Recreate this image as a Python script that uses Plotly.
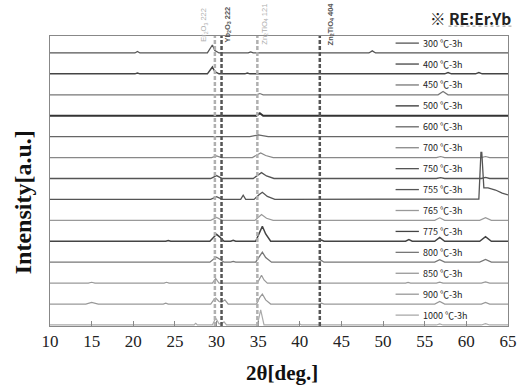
import plotly.graph_objects as go

LABELS = ["300 ℃-3h", "400 ℃-3h", "450 ℃-3h", "500 ℃-3h", "600 ℃-3h", "700 ℃-3h", "750 ℃-3h",
          "755 ℃-3h", "765 ℃-3h", "775 ℃-3h", "800 ℃-3h", "850 ℃-3h", "900 ℃-3h", "1000 ℃-3h"]
COLORS = ["#555555", "#444444", "#777777", "#333333", "#666666", "#888888", "#555555",
          "#555555", "#999999", "#444444", "#777777", "#999999", "#999999", "#aaaaaa"]
WIDTHS = [1.3, 1.5, 1.2, 2.0, 1.2, 1.2, 1.3, 1.3, 1.2, 1.5, 1.3, 1.2, 1.2, 1.2]

S300_X = [10, 20.2, 20.5, 20.8, 28.9, 29.3, 29.5, 29.8, 30.3, 33.8, 34.1, 34.4, 48.3, 48.7, 49.1, 65]
S300_Y = [0, 0, 0.07, 0, 0, 0.25, 0.38, 0.12, 0, 0, 0.05, 0, 0, 0.1, 0, 0]
S400_X = [10, 20.2, 20.5, 20.8, 28.9, 29.3, 29.5, 29.8, 30.3, 33.4, 33.7, 34.0, 57.4, 57.8, 58.2, 61.1, 61.5, 61.9, 65]
S400_Y = [0, 0, 0.04, 0, 0, 0.22, 0.33, 0.1, 0, 0, 0.04, 0, 0, 0.06, 0, 0, 0.06, 0, 0]
S450_X = [10, 34.8, 35.2, 35.6, 56.6, 57.2, 57.8, 65]
S450_Y = [0, 0, 0.06, 0, 0, 0.16, 0, 0]
S500_X = [10, 34.8, 35.2, 35.6, 65]
S500_Y = [0, 0, 0.12, 0, 0]
S600_X = [10, 34.0, 35.0, 36.2, 65]
S600_Y = [0, 0, 0.08, 0, 0]
S700_X = [10, 29.4, 30.0, 30.6, 34.3, 34.9, 35.3, 35.9, 36.8, 56.4, 56.9, 57.4, 61.8, 62.3, 62.8, 65]
S700_Y = [0, 0, 0.08, 0, 0, 0.14, 0.22, 0.1, 0, 0, 0.05, 0, 0, 0.05, 0, 0]
S750_X = [10, 29.3, 30.0, 30.7, 34.4, 35.0, 35.4, 36.0, 36.9, 56.4, 56.9, 57.4, 61.8, 62.3, 62.8, 65]
S750_Y = [0, 0, 0.14, 0, 0, 0.17, 0.28, 0.12, 0, 0, 0.04, 0, 0, 0.05, 0, 0]
S755_X = [10, 29.3, 30.0, 30.7, 32.9, 33.2, 33.5, 34.5, 35.1, 35.5, 36.1, 37.0, 61.5, 61.75, 61.85, 62.1, 62.6, 63.5, 64.3, 65]
S755_Y = [0, 0, 0.13, 0, 0, 0.2, 0, 0, 0.22, 0.34, 0.14, 0, 0.02, 2.25, 2.25, 0.55, 0.55, 0.45, 0.3, 0.22]
S765_X = [10, 29.3, 30.0, 30.7, 34.6, 35.1, 35.4, 36.0, 36.8, 56.2, 56.8, 57.4, 61.6, 62.3, 63.0, 65]
S765_Y = [0, 0, 0.14, 0, 0, 0.18, 0.28, 0.1, 0, 0, 0.12, 0, 0, 0.13, 0, 0]
S775_X = [10, 23.9, 24.2, 24.5, 29.2, 29.7, 30.0, 30.4, 30.9, 31.7, 32.0, 32.3, 34.7, 35.2, 35.5, 35.9, 36.5,
          42.3, 42.6, 42.9, 52.7, 53.1, 53.5, 56.2, 56.8, 57.4, 61.6, 62.3, 63.0, 65]
S775_Y = [0, 0, 0.04, 0, 0, 0.22, 0.33, 0.2, 0, 0, 0.05, 0, 0, 0.45, 0.72, 0.35, 0,
          0, 0.06, 0, 0, 0.08, 0, 0, 0.18, 0, 0, 0.22, 0, 0]
S800_X = [10, 14.6, 15.0, 15.4, 23.7, 24.0, 24.3, 29.2, 29.7, 30.0, 30.4, 30.9, 31.7, 32.0, 32.3, 34.7, 35.2,
          35.5, 35.9, 36.6, 42.3, 42.6, 42.9, 56.2, 56.8, 57.4, 61.6, 62.3, 63.0, 65]
S800_Y = [0, 0, 0.03, 0, 0, 0.03, 0, 0, 0.16, 0.24, 0.14, 0, 0, 0.04, 0, 0, 0.3,
          0.48, 0.22, 0, 0, 0.08, 0, 0, 0.12, 0, 0, 0.13, 0, 0]
S850_X = [10, 14.6, 15.0, 15.4, 23.7, 24.0, 24.3, 29.5, 29.9, 30.3, 34.9, 35.2, 35.4, 35.7, 36.1, 52.7, 53.0,
          53.3, 56.4, 56.8, 57.2, 61.8, 62.3, 62.8, 65]
S850_Y = [0, 0, 0.04, 0, 0, 0.04, 0, 0, 0.22, 0, 0, 0.25, 0.38, 0.15, 0, 0, 0.03,
          0, 0, 0.05, 0, 0, 0.06, 0, 0]
S900_X = [10, 14.3, 15.0, 15.8, 23.6, 23.9, 24.2, 25.7, 26.0, 26.3, 29.3, 29.7, 29.9, 30.3, 30.6, 31.0, 31.4,
          34.8, 35.2, 35.5, 35.9, 36.5, 42.3, 42.6, 42.9, 56.2, 56.8, 57.4, 61.8, 62.3, 62.8, 65]
S900_Y = [0, 0, 0.08, 0, 0, 0.04, 0, 0, 0.03, 0, 0, 0.22, 0.28, 0.12, 0.08, 0.2, 0,
          0, 0.32, 0.48, 0.2, 0, 0, 0.04, 0, 0, 0.12, 0, 0, 0.08, 0, 0]
S1000_X = [10, 15.2, 15.5, 15.8, 16.8, 17.0, 17.2, 21.8, 22.0, 22.2, 27.3, 27.5, 27.7, 29.5, 29.9, 30.3, 30.6,
           30.9, 31.2, 34.9, 35.3, 35.7, 39.8, 40.0, 40.2, 56.4, 56.8, 57.2, 61.8, 62.3, 62.8, 65]
S1000_Y = [0, 0, 0.03, 0, 0, 0.02, 0, 0, 0.03, 0, 0, 0.08, 0, 0, 0.33, 0.05, 0.05,
           0.15, 0, 0, 0.72, 0, 0, 0.05, 0, 0, 0.05, 0, 0, 0.06, 0, 0]

SERIES = [(S300_X, S300_Y), (S400_X, S400_Y), (S450_X, S450_Y), (S500_X, S500_Y), (S600_X, S600_Y),
          (S700_X, S700_Y), (S750_X, S750_Y), (S755_X, S755_Y), (S765_X, S765_Y), (S775_X, S775_Y),
          (S800_X, S800_Y), (S850_X, S850_Y), (S900_X, S900_Y), (S1000_X, S1000_Y)]

REF_X = [29.8, 30.6, 34.9, 42.4]
REF_COLORS = ["#b0b0b0", "#555555", "#b0b0b0", "#555555"]
REF_LABELS = ["Er<sub>2</sub>O<sub>3</sub> 222", "<b>Yb<sub>2</sub>O<sub>3</sub> 222</b>",
              "Zn<sub>2</sub>TiO<sub>4</sub> 121", "<b>Zn<sub>2</sub>TiO<sub>4</sub> 404</b>"]
REF_LABEL_X = [28.55, 31.4, 35.85, 43.75]

X_TICKS = [10, 15, 20, 25, 30, 35, 40, 45, 50, 55, 60, 65]

fig = go.Figure()
n = len(SERIES)
shapes = []
annotations = []
for i, ((xs, ys), lab, col, w) in enumerate(zip(SERIES, LABELS, COLORS, WIDTHS)):
    off = n - 1 - i
    fig.add_trace(go.Scatter(x=xs, y=[v + off for v in ys], mode="lines",
                             line=dict(color=col, width=w), name=lab, showlegend=False,
                             hoverinfo="skip"))
    shapes.append(dict(type="line", xref="x", yref="y", x0=51.5, x1=54.3,
                       y0=off + 0.47, y1=off + 0.47, line=dict(color=col, width=1.3)))
    annotations.append(dict(x=54.6, y=off + 0.47, xref="x", yref="y", text=lab, showarrow=False,
                            xanchor="left", yanchor="middle",
                            font=dict(family="Noto Sans CJK KR", size=9, color="#222222")))

for xv, c, lab, lx in zip(REF_X, REF_COLORS, REF_LABELS, REF_LABEL_X):
    shapes.append(dict(type="line", xref="x", yref="paper", x0=xv, x1=xv, y0=0, y1=1,
                       line=dict(color=c, width=2.5, dash="4px,2px")))
    annotations.append(dict(x=lx, y=1.04, xref="x", yref="paper", text=lab, showarrow=False,
                            textangle=-90, xanchor="center", yanchor="middle",
                            font=dict(family="Liberation Sans", size=7.5, color=c)))

annotations.append(dict(x=1.012, y=1.062, xref="paper", yref="paper", text="<b>※ RE:Er.Yb</b>",
                        showarrow=False, xanchor="right", yanchor="middle",
                        font=dict(family="Noto Sans CJK KR", size=15.5, color="#222222")))
shapes.append(dict(type="line", xref="paper", yref="paper", x0=0.87, x1=1.01, y0=1.034, y1=1.034,
                   line=dict(color="#999999", width=1, dash="dot")))
annotations.append(dict(x=-0.06, y=0.425, xref="paper", yref="paper", text="<b>Intensity[a.u.]</b>",
                        showarrow=False, textangle=-90, xanchor="center", yanchor="middle",
                        font=dict(family="Liberation Serif", size=24, color="#111111")))
annotations.append(dict(x=0.506, y=-0.163, xref="paper", yref="paper", text="<b>2θ[deg.]</b>",
                        showarrow=False, xanchor="center", yanchor="middle",
                        font=dict(family="Liberation Serif", size=21, color="#111111")))

fig.update_layout(
    width=526, height=387,
    margin=dict(l=50, r=9, t=36, b=61),
    paper_bgcolor="white", plot_bgcolor="white",
    shapes=shapes, annotations=annotations,
    xaxis=dict(range=[10, 65], tickvals=X_TICKS, ticktext=[str(t) for t in X_TICKS],
               showgrid=False, zeroline=False, showline=True, mirror=True, linecolor="#888888",
               linewidth=1, ticks="inside", ticklen=5, tickcolor="#888888",
               tickfont=dict(family="Liberation Serif", size=17, color="#222222")),
    yaxis=dict(range=[-0.05, 13.81], showticklabels=False, showgrid=False, zeroline=False,
               showline=True, mirror=True, linecolor="#888888", linewidth=1, ticks=""),
)

fig.write_html("out.html")
